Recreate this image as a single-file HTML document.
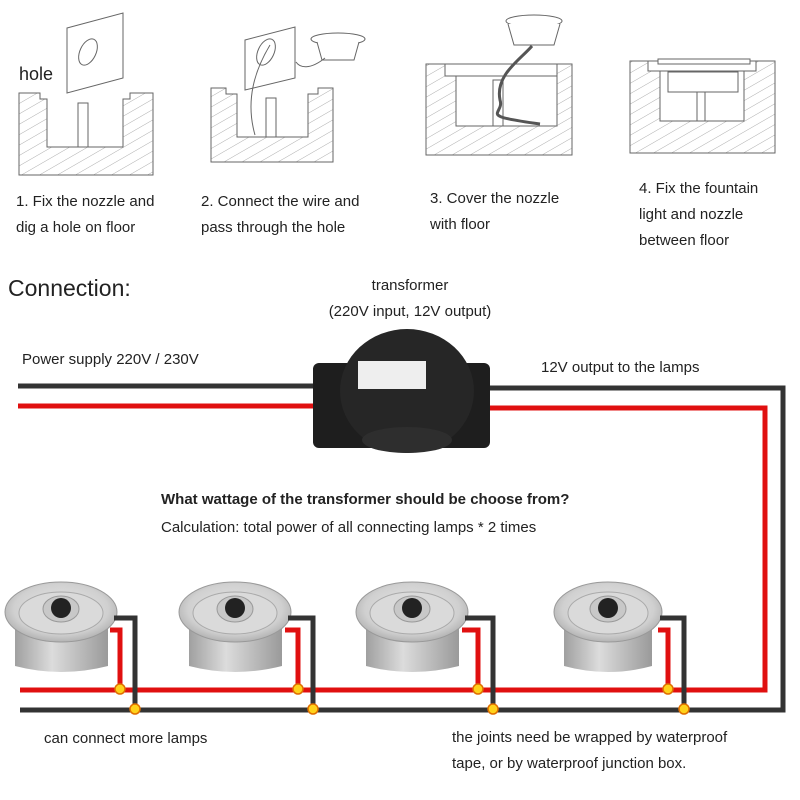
<!DOCTYPE html>
<html><head><style>
body{margin:0;background:#fff;}
svg{display:block;}
text{font-family:"Liberation Sans",sans-serif;fill:#222;}
</style></head><body>
<svg width="800" height="800" viewBox="0 0 800 800" xmlns="http://www.w3.org/2000/svg">
<defs>
<pattern id="h" width="9" height="9" patternUnits="userSpaceOnUse" patternTransform="rotate(60)">
<line x1="0" y1="0" x2="0" y2="9" stroke="#999" stroke-width="0.8"/>
</pattern>
<radialGradient id="lt" cx="50%" cy="45%" r="60%"><stop offset="0" stop-color="#e8e8e8"/><stop offset="0.7" stop-color="#d0d0d0"/><stop offset="1" stop-color="#a8a8a8"/></radialGradient>
<linearGradient id="lb" x1="0" x2="1"><stop offset="0" stop-color="#a0a0a0"/><stop offset="0.4" stop-color="#dcdcdc"/><stop offset="1" stop-color="#9a9a9a"/></linearGradient>
</defs>
<!-- floor sections -->
<g stroke="#666" stroke-width="1" fill="url(#h)">
<path d="M19 93 H40 V99 H47 V147 H123 V99 H130 V93 H153 V175 H19 Z"/>
<path d="M211 88 H226 V94 H237 V137 H308 V94 H318 V88 H333 V162 H211 Z"/>
<path d="M426 64 H572 V155 H426 Z M456 76 H557 V126 H456 Z" fill-rule="evenodd"/>
<path d="M630 61 H775 V153 H630 Z M660 71 H744 V121 H660 Z" fill-rule="evenodd"/>
</g>
<g stroke="#666" fill="#fff">
<rect x="445" y="64" width="112" height="12"/>
<rect x="648" y="61" width="108" height="10"/>
<path d="M67 28 L123 13 V78 L67 93 Z"/>
<path d="M245 40 L295 27 V78 L245 90 Z"/>
<rect x="78" y="103" width="10" height="44"/><rect x="266" y="98" width="10" height="39"/>
<rect x="493" y="80" width="10" height="46"/><rect x="697" y="78" width="8" height="43"/>
<ellipse cx="338" cy="39" rx="27" ry="6"/><path d="M317 42 L322 60 H354 L359 42"/>
<ellipse cx="534" cy="21" rx="28" ry="6"/><path d="M508 24 L514 45 H554 L560 24"/>
<rect x="668" y="72" width="70" height="20"/><rect x="658" y="59" width="92" height="5"/>
</g>
<ellipse cx="88" cy="52" rx="8" ry="14" fill="none" stroke="#666" transform="rotate(25 88 52)"/>
<ellipse cx="266" cy="52" rx="8" ry="14" fill="none" stroke="#666" transform="rotate(25 266 52)"/>
<path d="M270 45 C255 70 245 100 255 135" fill="none" stroke="#666"/>
<path d="M325 58 C310 70 300 68 296 62" fill="none" stroke="#666"/>
<path d="M532 46 C520 60 495 75 500 100 C505 115 475 115 540 124" fill="none" stroke="#555" stroke-width="3"/>
<text x="19" y="80" font-size="18">hole</text>
<g font-size="15">
<text x="16" y="206">1. Fix the nozzle and</text><text x="16" y="232">dig a hole on floor</text>
<text x="201" y="206">2. Connect the wire and</text><text x="201" y="232">pass through the hole</text>
<text x="430" y="203">3. Cover the nozzle</text><text x="430" y="229">with floor</text>
<text x="639" y="193">4. Fix the fountain</text><text x="639" y="219">light and nozzle</text><text x="639" y="245">between floor</text>
</g>
<text x="8" y="296" font-size="23">Connection:</text>
<text x="410" y="290" font-size="15" text-anchor="middle">transformer</text>
<text x="410" y="316" font-size="15" text-anchor="middle">(220V input, 12V output)</text>
<text x="22" y="364" font-size="15">Power supply 220V / 230V</text>
<text x="541" y="372" font-size="15">12V output to the lamps</text>
<text x="161" y="504" font-size="15" font-weight="bold">What wattage of the transformer should be choose from?</text>
<text x="161" y="532" font-size="15">Calculation: total power of all connecting lamps * 2 times</text>
<!-- wires -->
<g fill="none" stroke-width="5">
<path d="M18 386 H320" stroke="#333"/>
<path d="M18 406 H320" stroke="#e01010"/>
<path d="M485 388 H783 V710 H20" stroke="#333"/>
<path d="M485 408 H765 V690 H20" stroke="#e01010"/>
</g>
<!-- transformer -->
<rect x="313" y="363" width="177" height="85" rx="6" fill="#1e1e1e"/>
<ellipse cx="407" cy="391" rx="67" ry="62" fill="#262626"/>
<ellipse cx="407" cy="440" rx="45" ry="13" fill="#2e2e2e"/>
<rect x="358" y="361" width="68" height="28" fill="#eee"/>
<!-- lamps -->
<g id="lamps">
<g transform="translate(5,582)">
<path d="M10 30 L10 84 Q56 96 103 84 L103 30 Z" fill="url(#lb)"/>
<ellipse cx="56" cy="30" rx="56" ry="30" fill="url(#lt)" stroke="#999"/>
<ellipse cx="56" cy="31" rx="42" ry="21" fill="#dadada" stroke="#aaa"/>
<ellipse cx="56" cy="27" rx="18" ry="13" fill="#c8c8c8" stroke="#999"/>
<circle cx="56" cy="26" r="10" fill="#222"/>
</g>
<g transform="translate(179,582)">
<path d="M10 30 L10 84 Q56 96 103 84 L103 30 Z" fill="url(#lb)"/>
<ellipse cx="56" cy="30" rx="56" ry="30" fill="url(#lt)" stroke="#999"/>
<ellipse cx="56" cy="31" rx="42" ry="21" fill="#dadada" stroke="#aaa"/>
<ellipse cx="56" cy="27" rx="18" ry="13" fill="#c8c8c8" stroke="#999"/>
<circle cx="56" cy="26" r="10" fill="#222"/>
</g>
<g transform="translate(356,582)">
<path d="M10 30 L10 84 Q56 96 103 84 L103 30 Z" fill="url(#lb)"/>
<ellipse cx="56" cy="30" rx="56" ry="30" fill="url(#lt)" stroke="#999"/>
<ellipse cx="56" cy="31" rx="42" ry="21" fill="#dadada" stroke="#aaa"/>
<ellipse cx="56" cy="27" rx="18" ry="13" fill="#c8c8c8" stroke="#999"/>
<circle cx="56" cy="26" r="10" fill="#222"/>
</g>
<g transform="translate(554,582)">
<path d="M10 30 L10 84 Q54 96 98 84 L98 30 Z" fill="url(#lb)"/>
<ellipse cx="54" cy="30" rx="54" ry="30" fill="url(#lt)" stroke="#999"/>
<ellipse cx="54" cy="31" rx="40" ry="21" fill="#dadada" stroke="#aaa"/>
<ellipse cx="54" cy="27" rx="18" ry="13" fill="#c8c8c8" stroke="#999"/>
<circle cx="54" cy="26" r="10" fill="#222"/>
</g>
</g>
<g fill="none" stroke-width="5">
<path d="M114 618 H135 V710 M288 618 H313 V710 M465 618 H493 V710 M660 618 H684 V710" stroke="#333"/>
<path d="M110 630 H120 V690 M285 630 H298 V690 M462 630 H478 V690 M658 630 H668 V690" stroke="#e01010"/>
</g>
<g fill="#ffd21a" stroke="#e07000" stroke-width="1.5">
<circle cx="120" cy="689" r="5"/><circle cx="135" cy="709" r="5"/>
<circle cx="298" cy="689" r="5"/><circle cx="313" cy="709" r="5"/>
<circle cx="478" cy="689" r="5"/><circle cx="493" cy="709" r="5"/>
<circle cx="668" cy="689" r="5"/><circle cx="684" cy="709" r="5"/>
</g>
<g font-size="15">
<text x="44" y="743">can connect more lamps</text>
<text x="452" y="742">the joints need be wrapped by waterproof</text>
<text x="452" y="768">tape, or by waterproof junction box.</text>
</g>
</svg>
</body></html>
